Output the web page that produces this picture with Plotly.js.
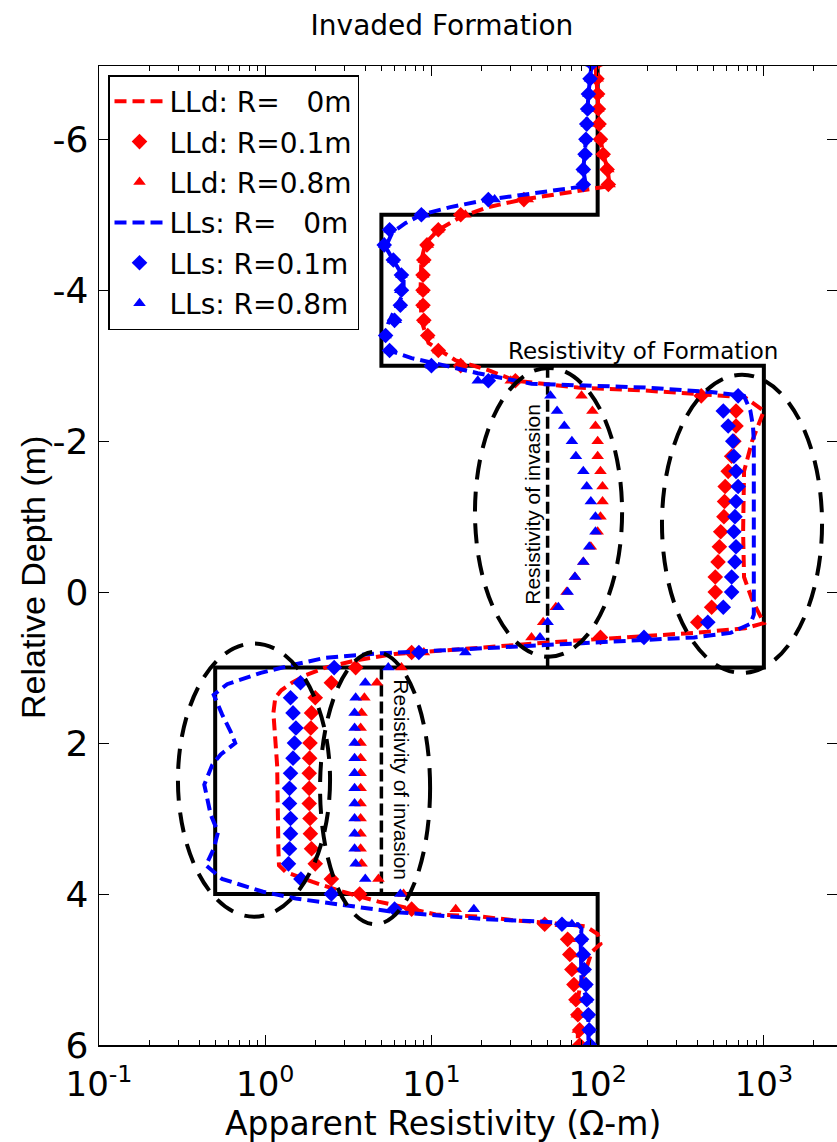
<!DOCTYPE html>
<html><head><meta charset="utf-8">
<script src="https://cdn.plot.ly/plotly-3.0.1.min.js"></script>
<style>html,body{margin:0;padding:0;background:#fff}#chart{width:837px;height:1142px}</style>
</head><body><div id="chart"></div>
<script>
// ---------- data ----------
const depth = [-7.0,-6.8,-6.6,-6.4,-6.2,-6.0,-5.8,-5.6,-5.4,-5.2,-5.0,-4.8,-4.6,-4.4,-4.2,-4.0,-3.8,-3.6,-3.4,-3.2,-3.0,-2.8,-2.6,-2.4,-2.2,-2.0,-1.8,-1.6,-1.4,-1.2,-1.0,-0.8,-0.6,-0.4,-0.2,0.0,0.2,0.4,0.6,0.8,1.0,1.2,1.4,1.6,1.8,2.0,2.2,2.4,2.6,2.8,3.0,3.2,3.4,3.6,3.8,4.0,4.2,4.4,4.6,4.8,5.0,5.2,5.4,5.6,5.8,6.0];
const lldR01 = [98,99,100,101,102,104,108,114,116, 36,15,11,9.4,9.0,8.9,8.9,8.9,9.0,9.5,11,15, 32,420,680,680,660,640,610,585,580,575,550,540,530,510,510,485,400,104, 7.6,3.5,2.5,2.0,1.9,1.88,1.86,1.85,1.84,1.84,1.84,1.86,1.87,1.9,2.0,2.5,3.7,7.6, 48,66,68,70,72,74,76,78,78];
const lldR08 = [98,100,100,101,102,104,108,116,118, 38,16,11,9.5,9.0,8.9,8.9,8.9,9.0,9.6,11,15, 30,80,93,97,100,100,104,107,107,104,100,91,82,73,65,56,47,40, 9,6.6,4.7,3.95,3.8,3.75,3.75,3.75,3.75,3.75,3.75,3.75,3.75,3.75,3.8,4.8,6.8,14, 60,68,70,72,73,74,75,76,77];
const llsR01 = [92,90,88,87,86,85,84,82,82, 22,8.7,5.6,5.2,5.9,6.6,6.6,6.5,6.0,5.3,5.6,10, 22,700,570,610,650,660,680,700,680,670,660,680,670,640,640,570,460,190, 8.4,2.6,1.63,1.42,1.47,1.53,1.5,1.47,1.42,1.4,1.4,1.42,1.42,1.4,1.38,1.64,2.5,6, 61,80,82,83,85,86,88,89,90];
const llsR08 = [92,90,88,87,86,85,84,82,82, 24,9,5.6,5.2,5.9,6.6,6.5,6.5,6.1,5.3,5.6,10, 19,52,57,63,70,74,82,86,91,97,97,89,82,73,66,58,50,45, 16,5.5,4.0,3.5,3.45,3.45,3.45,3.45,3.45,3.45,3.45,3.45,3.45,3.45,3.5,4.0,6.5,18, 70,80,82,83,85,86,88,89,90];

const lldR0Depth = [-7.0,-6.6,-6.2,-6.0,-5.8,-5.6,-5.38,-5.3,-5.2,-5.1,-4.97,-4.8,-4.62,-4.4,-4.0,-3.6,-3.3,-3.07,-2.94,-2.8,-2.71,-2.67,-2.63,-2.58,-2.4,-2.0,-1.6,-0.8,-0.2,0.1,0.41,0.48,0.54,0.58,0.63,0.67,0.74,0.78,0.82,0.9,1.0,1.1,1.2,1.3,1.4,1.6,2.3,3.4,3.62,3.71,3.84,3.97,4.1,4.2,4.27,4.3,4.35,4.4,4.43,4.53,4.66,4.77,5.0,5.17,5.4,6.0];
const lldR0 = [97,100,102,104,108,115,118,66,35,22,15,11,9.2,8.7,8.6,8.7,9.6,14,22,32,76,195,380,770,1000,850,760,750,760,850,1000,770,380,195,100,48,19,10,6,3.6,2.3,1.75,1.45,1.25,1.15,1.12,1.18,1.2,1.21,1.33,1.93,2.93,4.8,7.7,10.6,20,32,64,85,100,104,92,85,79,76,76];
const llsR0Depth = [-7.0,-6.6,-6.0,-5.6,-5.38,-5.29,-5.2,-5.1,-5.0,-4.89,-4.76,-4.57,-4.4,-4.17,-3.96,-3.77,-3.56,-3.38,-3.2,-3.1,-3.03,-2.9,-2.76,-2.71,-2.65,-2.6,-2.4,-2.2,-2.0,0.3,0.42,0.54,0.6,0.66,0.71,0.77,0.81,0.87,0.96,1.07,1.22,1.36,1.62,1.85,2.0,2.15,2.29,2.55,2.95,3.18,3.4,3.62,3.8,3.97,4.06,4.15,4.24,4.28,4.33,4.37,4.4,4.46,4.6,5.2,5.35,5.6,6.0];
const llsR0 = [92,88,85,82,85,42,22,13,8.7,7.0,5.8,5.3,5.9,6.8,6.8,6.1,5.5,5.2,5.6,7.6,10.6,19,40,195,480,760,830,860,870,870,830,630,380,120,38,12,5,2.3,1.5,0.94,0.59,0.49,0.55,0.62,0.66,0.54,0.48,0.43,0.47,0.52,0.49,0.44,0.55,0.97,1.53,3.0,6.1,10.6,20,50,76,80,79,80,85,88,88];

const formationDepth = [-7,-5,-5,-3,-3,1,1,4,4,6];
const formationRes = [100,100,5,5,1000,1000,0.5,0.5,100,100];
const invasionDepthA = [-3,1];
const invasionResA = [50,50];
const invasionDepthB = [1,4];
const invasionResB = [5,5];

const seriesNames = ['LLd: R=\u00a0\u00a0\u00a00m','LLd: R=0.1m','LLd: R=0.8m','LLs: R=\u00a0\u00a0\u00a00m','LLs: R=0.1m','LLs: R=0.8m'];
const xTickVals = [0.1,1,10,100,1000];
const xTickText = ['10<sup>-1</sup>','10<sup>0</sup>','10<sup>1</sup>','10<sup>2</sup>','10<sup>3</sup>'];
const xMinorVals = [0.2,0.3,0.4,0.5,0.6,0.7,0.8,0.9,2,3,4,5,6,7,8,9,20,30,40,50,60,70,80,90,200,300,400,500,600,700,800,900,2000];
const yTickVals = [-6,-4,-2,0,2,4,6];
const yTickText = ['-6','-4','-2','0','2','4','6'];

// ---------- styling ----------
const RED = '#ff0000', BLUE = '#0000ff';
const HF = 'DejaVu Sans';      // horizontal texts
const VF = 'Liberation Sans';  // vertical texts
const lineDash = '12px,6px';

const traces = [
  {x: formationRes, y: formationDepth, mode:'lines', line:{color:'black', width:4}, showlegend:false, hoverinfo:'skip'},
  {x: invasionResA, y: invasionDepthA, mode:'lines', line:{color:'black', width:3.5, dash:'12px,5px'}, showlegend:false, hoverinfo:'skip'},
  {x: invasionResB, y: invasionDepthB, mode:'lines', line:{color:'black', width:3.5, dash:'12px,5px'}, showlegend:false, hoverinfo:'skip'},
  {name: seriesNames[0], legendgroup:'a', x: lldR0, y: lldR0Depth, mode:'lines', line:{color:RED, width:4, dash:lineDash}},
  {name: seriesNames[1], legendgroup:'b', x: lldR01, y: depth, mode:'markers', marker:{color:RED, symbol:'diamond', size:12}},
  {name: seriesNames[2], legendgroup:'c', x: lldR08, y: depth, mode:'markers', marker:{color:RED, symbol:'triangle-up', size:11}},
  {name: seriesNames[3], legendgroup:'d', x: llsR0, y: llsR0Depth, mode:'lines', line:{color:BLUE, width:4, dash:lineDash}},
  {name: seriesNames[4], legendgroup:'e', x: llsR01, y: depth, mode:'markers', marker:{color:BLUE, symbol:'diamond', size:12}},
  {name: seriesNames[5], legendgroup:'f', x: llsR08, y: depth, mode:'markers', marker:{color:BLUE, symbol:'triangle-up', size:11}}
];

const ellDash = {color:'black', width:4, dash:'20px,12px'};
const layout = {
  width: 837, height: 1142,
  margin: {l:99, r:0, t:66, b:97},
  paper_bgcolor:'white', plot_bgcolor:'white',
  title: {text:'Invaded Formation', font:{family:HF, size:28, color:'black'}, xref:'container', x:0.528, xanchor:'center', yref:'container', y:0.978, yanchor:'middle'},
  xaxis: {type:'log', range:[-1, 3.44], tickmode:'array', tickvals:xTickVals, ticktext:xTickText,
    ticks:'inside', ticklen:10, tickwidth:1, tickcolor:'black', showline:true, linecolor:'black', linewidth:1.5,
    mirror:'ticks', showgrid:false, zeroline:false, ticklabelstandoff:9,
    tickfont:{family:HF, size:34, color:'black'},
    minor:{tickmode:'array', tickvals:xMinorVals, ticks:'inside', ticklen:5, tickcolor:'black', showgrid:false}},
  yaxis: {range:[6, -6.97], tickmode:'array', tickvals:yTickVals, ticktext:yTickText,
    ticks:'inside', ticklen:10, tickwidth:1, tickcolor:'black', showline:true, linecolor:'black', linewidth:1.5,
    mirror:'ticks', showgrid:false, zeroline:false, ticklabelstandoff:2,
    tickfont:{family:HF, size:36, color:'black'}},
  legend: {x:0.0122, y:0.9908, xanchor:'left', yanchor:'top', bgcolor:'white', bordercolor:'black', borderwidth:1.5,
    font:{family:HF, size:28, color:'black'}, itemwidth:50, traceorder:'grouped', tracegroupgap:1},
  shapes: [
    {type:'circle', xref:'x', yref:'y', x0:18.28, x1:140.3, y0:-2.97, y1:0.855, line:ellDash},
    {type:'circle', xref:'x', yref:'y', x0:243.8, x1:2239, y0:-2.88, y1:1.07, line:ellDash},
    {type:'circle', xref:'x', yref:'y', x0:0.2985, x1:2.455, y0:0.68, y1:4.30, line:ellDash},
    {type:'circle', xref:'x', yref:'y', x0:2.138, x1:9.817, y0:0.79, y1:4.40, line:ellDash}
  ],
  annotations: [
    {text:'Resistivity of Formation', xref:'x', yref:'y', x:2.273, y:-3.19, showarrow:false, font:{family:HF, size:23, color:'black'}},
    {text:'Resistivity of invasion', xref:'x', yref:'y', x:1.611, y:-1.17, textangle:-90, showarrow:false, font:{family:VF, size:21, color:'black'}},
    {text:'Resistivity of invasion', xref:'x', yref:'y', x:0.823, y:2.48, textangle:90, showarrow:false, font:{family:VF, size:21, color:'black'}},
    {text:'Apparent Resistivity (\u03a9-m)', xref:'paper', yref:'paper', x:0.466, y:-0.0805, xanchor:'center', yanchor:'middle', showarrow:false, font:{family:HF, size:33, color:'black'}},
    {text:'Relative Depth (m)', xref:'paper', yref:'paper', x:-0.0895, y:0.478, xanchor:'center', yanchor:'middle', textangle:-90, showarrow:false, font:{family:VF, size:34, color:'black'}}
  ]
};

Plotly.newPlot('chart', traces, layout, {displayModeBar:false, staticPlot:true});
</script>
</body></html>
